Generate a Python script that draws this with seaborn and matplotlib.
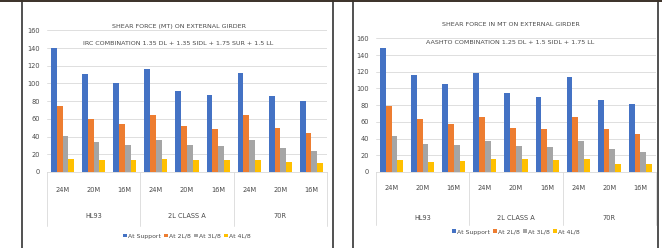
import matplotlib.pyplot as plt
import matplotlib.lines as mlines
import pandas as pd
import seaborn as sns

sns.set_theme(style="white")
plt.rcParams["font.family"] = ["Liberation Sans Narrow", "DejaVu Sans"]

groups = ["HL93", "2L CLASS A", "70R"]
spans = ["24M", "20M", "16M"]
positions = ["At Support", "At 2L/8", "At 3L/8", "At 4L/8"]
colors = ["#4472C4", "#ED7D31", "#A5A5A5", "#FFC000"]

# IRC combination 1.35 DL + 1.35 SIDL + 1.75 SUR + 1.5 LL
irc_support = [140, 111, 100, 116, 92, 87, 112, 86, 80]
irc_2l8 = [75, 60, 54, 64, 52, 49, 64, 50, 44]
irc_3l8 = [41, 34, 31, 36, 31, 29, 36, 27, 24]
irc_4l8 = [15, 13, 13, 15, 14, 14, 14, 11, 10]

# AASHTO combination 1.25 DL + 1.5 SIDL + 1.75 LL
aashto_support = [148, 116, 105, 119, 95, 90, 114, 86, 81]
aashto_2l8 = [79, 63, 57, 66, 53, 51, 66, 51, 45]
aashto_3l8 = [43, 34, 32, 37, 31, 30, 37, 28, 24]
aashto_4l8 = [14, 12, 13, 15, 15, 14, 15, 10, 9]

TEXT = "#4a4a4a"


def build_frame(series):
    rows = []
    for pos, vals in zip(positions, series):
        for i, v in enumerate(vals):
            g = groups[i // 3]
            s = spans[i % 3]
            rows.append({"cat": f"{g}|{s}", "span": s, "position": pos, "value": v})
    return pd.DataFrame(rows)


def draw_panel(fig, rect, series, title, subtitle, title_y, sub_y, title_x,
               tick_pad, group_y, legend_y, sep_bottom):
    ax = fig.add_axes(rect)
    df = build_frame(series)
    sns.barplot(data=df, x="cat", y="value", hue="position", hue_order=positions,
                palette=colors, saturation=1, width=0.74, linewidth=0,
                ax=ax, errorbar=None)
    ax.set_ylim(0, 160)
    ax.set_yticks(range(0, 161, 20))
    ax.set_xlim(-0.5, 8.5)
    ax.grid(axis="y", color="#D9D9D9", linewidth=0.6)
    ax.set_axisbelow(True)
    for side in ["top", "right", "left"]:
        ax.spines[side].set_visible(False)
    ax.spines["bottom"].set_color("#D9D9D9")
    ax.spines["bottom"].set_linewidth(0.6)
    ax.set_xlabel("")
    ax.set_ylabel("")
    ax.set_xticks(range(9))
    ax.set_xticklabels(spans * 3)
    ax.tick_params(axis="x", length=0, pad=tick_pad, labelsize=4.8, labelcolor=TEXT)
    ax.tick_params(axis="y", length=0, pad=5, labelsize=4.8, labelcolor=TEXT)

    trans = ax.get_xaxis_transform()
    for k, g in enumerate(groups):
        ax.text(3 * k + 1, group_y, g, transform=trans, ha="center", va="center",
                fontsize=4.8, color=TEXT)
    for xb in [-0.5, 2.5, 5.5, 8.5]:
        ax.add_line(mlines.Line2D([xb, xb], [0, sep_bottom], transform=trans,
                                  color="#D9D9D9", linewidth=0.6, clip_on=False))

    ax.text(title_x, title_y, title, transform=ax.transAxes, ha="center",
            va="center", fontsize=4.6, color=TEXT)
    ax.text(title_x, sub_y, subtitle, transform=ax.transAxes, ha="center",
            va="center", fontsize=4.6, color=TEXT)

    sns.move_legend(ax, "center", bbox_to_anchor=(0.5, legend_y), ncol=4,
                    frameon=False, title=None, fontsize=4.4, handlelength=0.6,
                    handleheight=0.6, handletextpad=0.25, columnspacing=0.5,
                    labelcolor=TEXT)
    return ax


W, H = 662, 248
fig = plt.figure(figsize=(W / 100, H / 100), dpi=100)
fig.patch.set_facecolor("white")

draw_panel(fig, [47 / W, 76 / H, 280 / W, 141.7 / H],
           [irc_support, irc_2l8, irc_3l8, irc_4l8],
           "SHEAR FORCE (MT) ON EXTERNAL GIRDER",
           "IRC COMBINATION 1.35 DL + 1.35 SIDL + 1.75 SUR + 1.5 LL",
           1.03, 0.91, 0.47, 11, -0.31, -0.452, -0.38)

draw_panel(fig, [376 / W, 76 / H, 280 / W, 133.7 / H],
           [aashto_support, aashto_2l8, aashto_3l8, aashto_4l8],
           "SHEAR FORCE IN MT ON EXTERNAL GIRDER",
           "AASHTO COMBINATION 1.25 DL + 1.5 SIDL + 1.75 LL",
           1.10, 0.972, 0.48, 9.5, -0.344, -0.449, -0.40)

# screenshot frame lines
for xp in [22, 333, 353, 658]:
    fig.add_artist(mlines.Line2D([xp / W, xp / W], [0, 1], transform=fig.transFigure,
                                 color="#222222", linewidth=1.1))
fig.add_artist(mlines.Line2D([0, 1], [1 - 0.8 / H, 1 - 0.8 / H], transform=fig.transFigure,
                             color="#3a3028", linewidth=1.4))

fig.savefig("out.png", dpi=100)
